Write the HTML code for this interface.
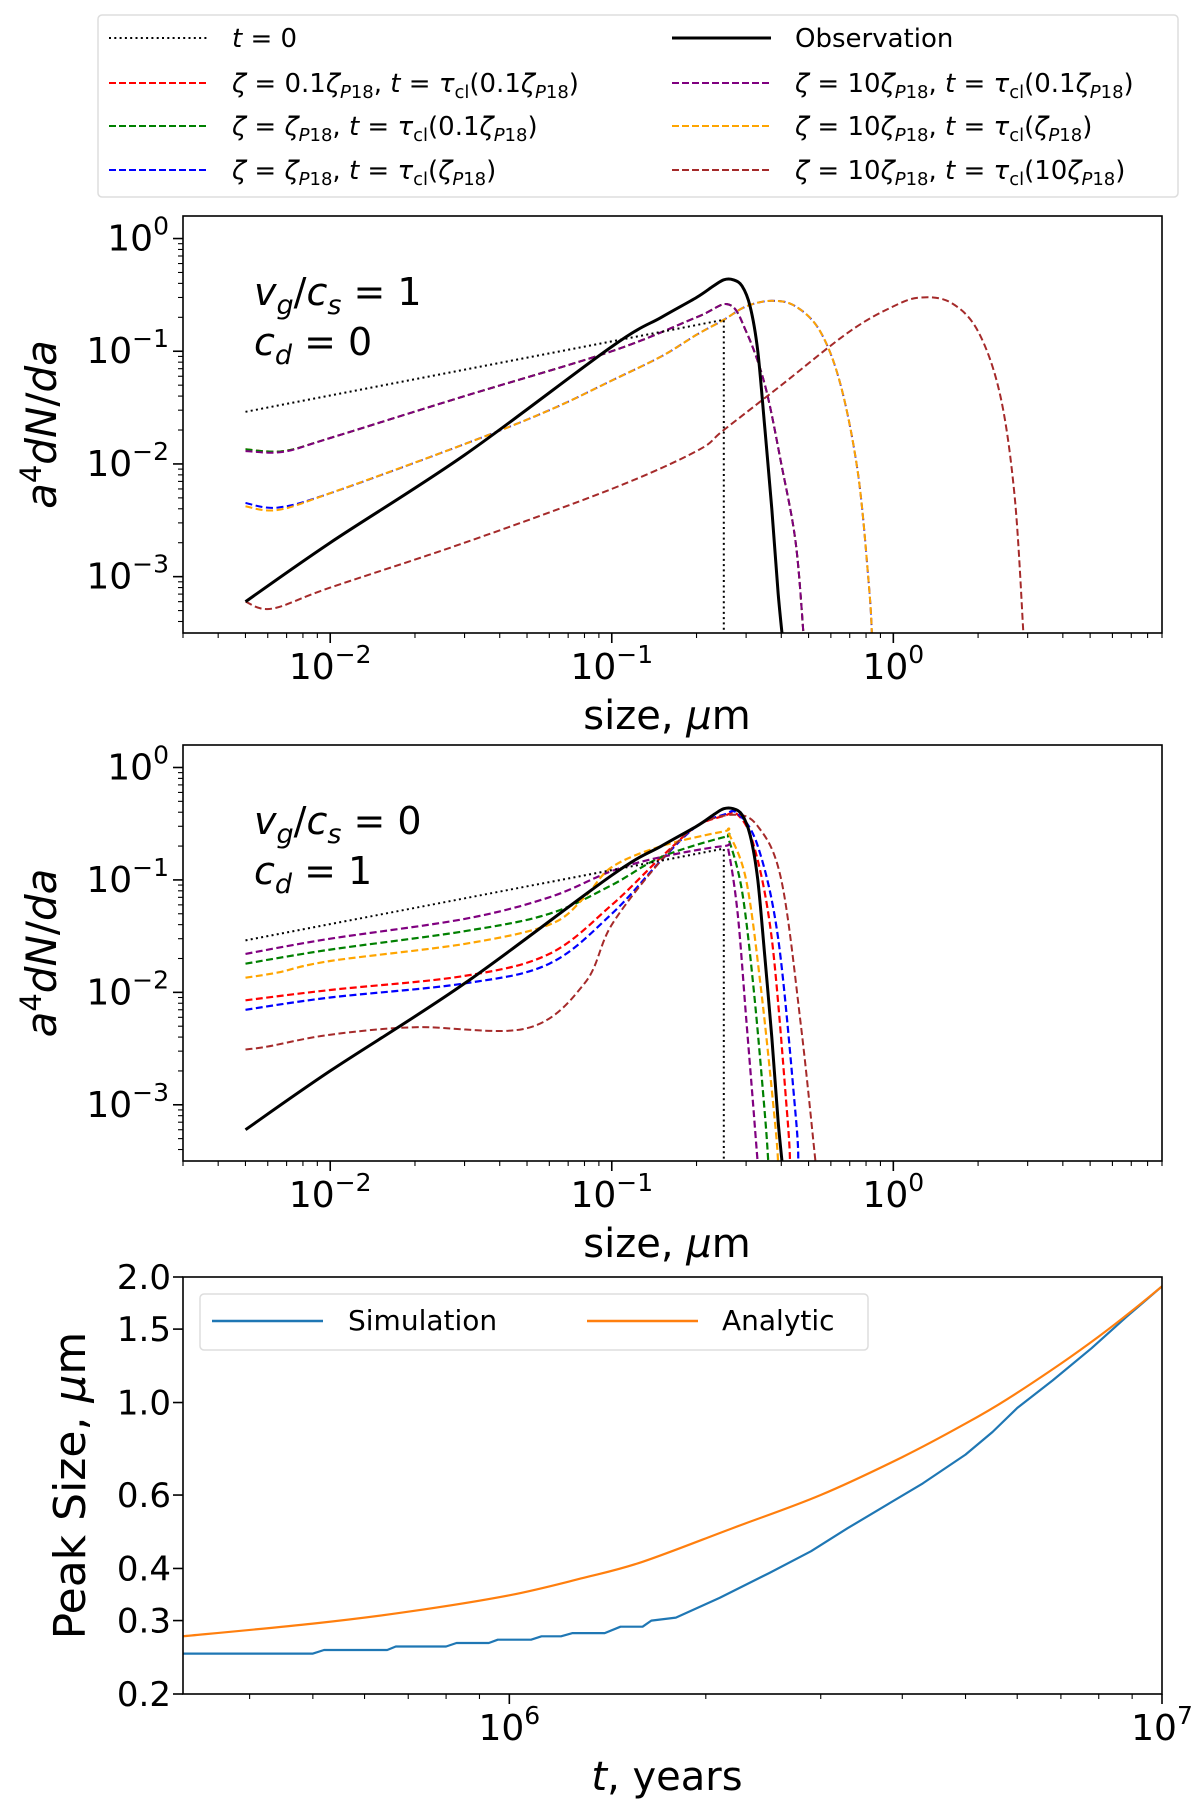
<!DOCTYPE html>
<html><head><meta charset="utf-8"><style>
html,body{margin:0;padding:0;background:#fff;}
svg{display:block;font-family:"DejaVu Sans","Liberation Sans",sans-serif;}
</style></head><body>
<svg id="fig" width="1200" height="1803" viewBox="0 0 1200 1803" xmlns="http://www.w3.org/2000/svg">
<g>
<rect x="98" y="15" width="1080" height="182" rx="4" fill="#fff" stroke="#ddd" stroke-width="1.5"/>
<g font-size="26" fill="#000">
<line x1="109" y1="38" x2="208" y2="38" stroke="#000" stroke-width="2" stroke-dasharray="2,3.3"/>
<text x="232" y="47"><tspan font-style="italic">t</tspan> = 0</text>
<line x1="109" y1="83" x2="208" y2="83" stroke="red" stroke-width="2" stroke-dasharray="7,3"/>
<text x="232" y="92"><tspan font-style="italic">ζ</tspan> = 0.1<tspan font-style="italic">ζ</tspan><tspan font-size="18" dy="6" font-style="italic">P</tspan><tspan font-size="18">18</tspan><tspan dy="-6">, </tspan><tspan font-style="italic">t</tspan> = <tspan font-style="italic">τ</tspan><tspan font-size="18" dy="6">cl</tspan><tspan dy="-6">(0.1</tspan><tspan font-style="italic">ζ</tspan><tspan font-size="18" dy="6" font-style="italic">P</tspan><tspan font-size="18">18</tspan><tspan dy="-6">)</tspan></text>
<line x1="109" y1="126" x2="208" y2="126" stroke="green" stroke-width="2" stroke-dasharray="7,3"/>
<text x="232" y="135"><tspan font-style="italic">ζ</tspan> = <tspan font-style="italic">ζ</tspan><tspan font-size="18" dy="6" font-style="italic">P</tspan><tspan font-size="18">18</tspan><tspan dy="-6">, </tspan><tspan font-style="italic">t</tspan> = <tspan font-style="italic">τ</tspan><tspan font-size="18" dy="6">cl</tspan><tspan dy="-6">(0.1</tspan><tspan font-style="italic">ζ</tspan><tspan font-size="18" dy="6" font-style="italic">P</tspan><tspan font-size="18">18</tspan><tspan dy="-6">)</tspan></text>
<line x1="109" y1="170" x2="208" y2="170" stroke="blue" stroke-width="2" stroke-dasharray="7,3"/>
<text x="232" y="179"><tspan font-style="italic">ζ</tspan> = <tspan font-style="italic">ζ</tspan><tspan font-size="18" dy="6" font-style="italic">P</tspan><tspan font-size="18">18</tspan><tspan dy="-6">, </tspan><tspan font-style="italic">t</tspan> = <tspan font-style="italic">τ</tspan><tspan font-size="18" dy="6">cl</tspan><tspan dy="-6">(</tspan><tspan font-style="italic">ζ</tspan><tspan font-size="18" dy="6" font-style="italic">P</tspan><tspan font-size="18">18</tspan><tspan dy="-6">)</tspan></text>
<line x1="672" y1="38" x2="771" y2="38" stroke="#000" stroke-width="3"/>
<text x="795" y="47">Observation</text>
<line x1="672" y1="83" x2="771" y2="83" stroke="purple" stroke-width="2" stroke-dasharray="7,3"/>
<text x="795" y="92"><tspan font-style="italic">ζ</tspan> = 10<tspan font-style="italic">ζ</tspan><tspan font-size="18" dy="6" font-style="italic">P</tspan><tspan font-size="18">18</tspan><tspan dy="-6">, </tspan><tspan font-style="italic">t</tspan> = <tspan font-style="italic">τ</tspan><tspan font-size="18" dy="6">cl</tspan><tspan dy="-6">(0.1</tspan><tspan font-style="italic">ζ</tspan><tspan font-size="18" dy="6" font-style="italic">P</tspan><tspan font-size="18">18</tspan><tspan dy="-6">)</tspan></text>
<line x1="672" y1="126" x2="771" y2="126" stroke="orange" stroke-width="2" stroke-dasharray="7,3"/>
<text x="795" y="135"><tspan font-style="italic">ζ</tspan> = 10<tspan font-style="italic">ζ</tspan><tspan font-size="18" dy="6" font-style="italic">P</tspan><tspan font-size="18">18</tspan><tspan dy="-6">, </tspan><tspan font-style="italic">t</tspan> = <tspan font-style="italic">τ</tspan><tspan font-size="18" dy="6">cl</tspan><tspan dy="-6">(</tspan><tspan font-style="italic">ζ</tspan><tspan font-size="18" dy="6" font-style="italic">P</tspan><tspan font-size="18">18</tspan><tspan dy="-6">)</tspan></text>
<line x1="672" y1="170" x2="771" y2="170" stroke="#a52a2a" stroke-width="2" stroke-dasharray="7,3"/>
<text x="795" y="179"><tspan font-style="italic">ζ</tspan> = 10<tspan font-style="italic">ζ</tspan><tspan font-size="18" dy="6" font-style="italic">P</tspan><tspan font-size="18">18</tspan><tspan dy="-6">, </tspan><tspan font-style="italic">t</tspan> = <tspan font-style="italic">τ</tspan><tspan font-size="18" dy="6">cl</tspan><tspan dy="-6">(10</tspan><tspan font-style="italic">ζ</tspan><tspan font-size="18" dy="6" font-style="italic">P</tspan><tspan font-size="18">18</tspan><tspan dy="-6">)</tspan></text>
</g>
</g>
</svg>
<script>
// ---------- data (panel 1: v_g/c_s=1, c_d=0) ----------
const t0X = [0.005, 0.25, 0.25];
const t0Y = [0.029, 0.19, 0.0002];
const obsX = [0.005,0.01,0.03,0.1,0.15,0.2,0.23,0.25,0.27,0.29,0.31,0.33,0.35,0.37,0.39,0.41];
const obsY = [6e-4,2e-3,1.2e-2,0.11,0.2,0.3,0.38,0.43,0.43,0.38,0.25,0.1,0.02,0.004,7e-4,2e-4];
const p1PurpleX = [0.005,0.0068,0.01,0.03,0.1,0.2,0.26,0.3,0.35,0.4,0.45,0.48];
const p1PurpleY = [0.013,0.0128,0.017,0.04,0.1,0.2,0.26,0.15,0.05,0.01,0.002,3e-4];
const p1RedY = [0.0135,0.013,0.017,0.04,0.1,0.2,0.26,0.15,0.05,0.01,0.002,3e-4];
const p1OrangeX = [0.005,0.0065,0.01,0.03,0.06,0.1,0.15,0.2,0.25,0.3,0.37,0.45,0.55,0.65,0.75,0.82,0.84];
const p1OrangeY = [0.0042,0.0039,0.0055,0.015,0.03,0.055,0.09,0.14,0.19,0.25,0.28,0.25,0.15,0.05,0.008,8e-4,3e-4];
const p1BlueY = [0.0045,0.0041,0.0055,0.015,0.03,0.055,0.09,0.14,0.19,0.25,0.28,0.25,0.15,0.05,0.008,8e-4,3e-4];
const p1DarkX = [0.005,0.0062,0.01,0.03,0.1,0.2,0.25,0.4,0.7,1.0,1.25,1.6,2.0,2.4,2.7,2.9];
const p1DarkY = [6e-4,5.2e-4,8e-4,2e-3,6e-3,0.013,0.02,0.05,0.15,0.25,0.3,0.27,0.15,0.04,0.005,3e-4];
// ---------- data (panel 2: v_g/c_s=0, c_d=1) ----------
const p2PurpleX = [0.005,0.01,0.03,0.06,0.1,0.15,0.25,0.26,0.28,0.3,0.32,0.33];
const p2PurpleY = [0.022,0.03,0.045,0.07,0.12,0.16,0.2,0.18,0.05,0.006,8e-4,3e-4];
const p2GreenX = [0.005,0.01,0.03,0.06,0.1,0.15,0.25,0.26,0.29,0.32,0.35,0.36];
const p2GreenY = [0.018,0.024,0.035,0.05,0.09,0.16,0.24,0.23,0.08,0.01,8e-4,3e-4];
const p2OrangeX = [0.005,0.0065,0.01,0.03,0.06,0.08,0.1,0.15,0.25,0.26,0.3,0.34,0.38,0.39];
const p2OrangeY = [0.0135,0.015,0.019,0.027,0.04,0.07,0.13,0.2,0.27,0.26,0.1,0.01,7e-4,3e-4];
const p2RedX = [0.005,0.01,0.03,0.06,0.1,0.15,0.2,0.25,0.28,0.32,0.37,0.42,0.43];
const p2RedY = [0.0085,0.0105,0.014,0.022,0.06,0.16,0.3,0.37,0.38,0.2,0.03,8e-4,3e-4];
const p2BlueX = [0.005,0.01,0.03,0.06,0.1,0.15,0.2,0.25,0.28,0.33,0.39,0.45,0.46];
const p2BlueY = [0.007,0.009,0.012,0.018,0.05,0.15,0.3,0.38,0.39,0.2,0.03,8e-4,3e-4];
const p2DarkX = [0.005,0.006,0.01,0.02,0.05,0.08,0.1,0.15,0.2,0.27,0.33,0.4,0.47,0.53];
const p2DarkY = [0.0031,0.0033,0.0042,0.0049,0.0048,0.012,0.04,0.15,0.3,0.38,0.3,0.1,0.005,3e-4];
// ---------- data (panel 3) ----------
const anaT = [3.16e5,5e5,7e5,1e6,1.3e6,1.6e6,2.2e6,3e6,4e6,5e6,5.8e6,7e6,8e6,9e6,1e7];
const anaY = [0.275,0.295,0.315,0.345,0.38,0.415,0.5,0.6,0.74,0.89,1.02,1.24,1.44,1.66,1.9];
const simT = [3.16e5,5e5,5.2e5,6.5e5,6.7e5,8e5,8.3e5,9.3e5,9.6e5,1.08e6,1.12e6,1.2e6,1.25e6,1.4e6,1.48e6,1.6e6,1.65e6,1.8e6,2.1e6,2.5e6,2.9e6,3.3e6,3.8e6,4.3e6,5e6,5.5e6,6e6,6.8e6,7.8e6,8.8e6,1e7];
const simY = [0.25,0.25,0.255,0.255,0.26,0.26,0.265,0.265,0.27,0.27,0.275,0.275,0.28,0.28,0.29,0.29,0.3,0.305,0.34,0.39,0.44,0.5,0.57,0.64,0.75,0.85,0.97,1.13,1.35,1.6,1.9];
const p3YTicks = [0.2,0.3,0.4,0.6,1.0,1.5,2.0];
const p3YTickLabels = ["0.2","0.3","0.4","0.6","1.0","1.5","2.0"];

const NS = "http://www.w3.org/2000/svg";
const fig = document.getElementById('fig');
function mk(tag, attrs, parent){const e=document.createElementNS(NS,tag);for(const k in attrs)e.setAttribute(k,attrs[k]);(parent||fig).appendChild(e);return e;}

function logScale(d0,d1,r0,r1){const a=Math.log10(d0),b=Math.log10(d1);return v=>r0+(Math.log10(v)-a)/(b-a)*(r1-r0);}

function drawLine(g,xs,ys,sx,sy,color,width,dash,name,smooth){
  const P=xs.map((x,i)=>[sx(x),sy(ys[i])]);
  let d='M'+P[0][0].toFixed(1)+','+P[0][1].toFixed(1);
  for(let i=1;i<P.length;i++){
    if(smooth){
      const p0=P[Math.max(0,i-2)],p1=P[i-1],p2=P[i],p3=P[Math.min(P.length-1,i+1)];
      const k=1/6;
      const c1=[p1[0]+(p2[0]-p0[0])*k,p1[1]+(p2[1]-p0[1])*k];
      const c2=[p2[0]-(p3[0]-p1[0])*k,p2[1]-(p3[1]-p1[1])*k];
      d+='C'+c1[0].toFixed(1)+','+c1[1].toFixed(1)+' '+c2[0].toFixed(1)+','+c2[1].toFixed(1)+' '+p2[0].toFixed(1)+','+p2[1].toFixed(1);
    } else d+='L'+P[i][0].toFixed(1)+','+P[i][1].toFixed(1);
  }
  const p=mk('path',{d:d,fill:'none',stroke:color,'stroke-width':width,'stroke-linejoin':'round'},g);
  if(dash)p.setAttribute('stroke-dasharray',dash);
  
  
}

function axesFrame(L,T,R,B,name){
  const g=mk('g',{});
  
  
  const cp=mk('clipPath',{id:'clip-'+name},g);
  mk('rect',{x:L,y:T,width:R-L,height:B-T},cp);
  return g;
}

function decadeTicksX(g,sx,d0,d1,B,labelled){
  for(let e=Math.floor(Math.log10(d0));e<=Math.ceil(Math.log10(d1));e++){
    for(let m=1;m<10;m++){
      const v=m*Math.pow(10,e); if(v<d0*0.999||v>d1*1.001)continue;
      const x=sx(v);
      mk('line',{x1:x,y1:B,x2:x,y2:B+(m===1?10:5),stroke:'#000','stroke-width':m===1?1.6:1.1},g);
      if(m===1&&labelled.includes(e)){
        const t=mk('text',{x:x,y:B+46,'font-size':36,'text-anchor':'middle'},g);
        
        
        t.innerHTML='10<tspan font-size="25" dy="-16">'+(e<0?'−'+(-e):e)+'</tspan>';
      }
    }
  }
}
function decadeTicksY(g,sy,d0,d1,L){
  for(let e=Math.floor(Math.log10(d0));e<=Math.ceil(Math.log10(d1));e++){
    for(let m=1;m<10;m++){
      const v=m*Math.pow(10,e); if(v<d0*0.999||v>d1*1.001)continue;
      const y=sy(v);
      mk('line',{x1:L,y1:y,x2:L-(m===1?10:5),y2:y,stroke:'#000','stroke-width':m===1?1.6:1.1},g);
      if(m===1){
        const t=mk('text',{x:L-14,y:y+12,'font-size':36,'text-anchor':'end'},g);
        
        
        t.innerHTML='10<tspan font-size="25" dy="-16">'+(e<0?'−'+(-e):e)+'</tspan>';
      }
    }
  }
}

function sizePanel(T,B,name,series,ann1,ann2){
  const L=183,R=1162;
  const g=axesFrame(L,T,R,B,name);
  const sx=logScale(0.003,9,L,R);
  const sy=logScale(Math.pow(10,-3.5),Math.pow(10,0.2),B,T);
  const cg=mk('g',{'clip-path':'url(#clip-'+name+')'},g);
  series.forEach(s=>drawLine(cg,s[0],s[1],sx,sy,s[2],s[3],s[4],s[5],s[6]));
  mk('rect',{x:L,y:T,width:R-L,height:B-T,fill:'none',stroke:'#000','stroke-width':1.6},g);
  decadeTicksX(g,sx,0.003,9,B,[-2,-1,0]);
  decadeTicksY(g,sy,Math.pow(10,-3.5),Math.pow(10,0.2),L);
  const a1=mk('text',{x:254,y:T+89,'font-size':38},g);
  
  
  a1.innerHTML='<tspan font-style="italic">v</tspan><tspan font-size="27" dy="9" font-style="italic">g</tspan><tspan dy="-9">/</tspan><tspan font-style="italic">c</tspan><tspan font-size="27" dy="9" font-style="italic">s</tspan><tspan dy="-9"> = '+ann1+'</tspan>';
  const a2=mk('text',{x:254,y:T+139,'font-size':38},g);
  
  
  a2.innerHTML='<tspan font-style="italic">c</tspan><tspan font-size="27" dy="9" font-style="italic">d</tspan><tspan dy="-9"> = '+ann2+'</tspan>';
  const xl=mk('text',{x:667,y:B+96,'font-size':40,'text-anchor':'middle'},g);
  
  
  xl.innerHTML='size, <tspan font-style="italic">μ</tspan>m';
  const yc=(T+B)/2;
  const yl=mk('text',{x:0,y:0,'font-size':42,'text-anchor':'middle',transform:'translate(56,'+yc+') rotate(-90)'},g);
  
  
  yl.innerHTML='<tspan font-style="italic">a</tspan><tspan font-size="29" dy="-15">4</tspan><tspan dy="15" font-style="italic">dN</tspan>/<tspan font-style="italic">da</tspan>';
}
const D='7,3.5';
sizePanel(216,633,'panel-vg1-cd0',[
  [p1PurpleX,p1RedY,'red',2,D,'red-dashed-line',true],
  [p1PurpleX,p1RedY,'green',2,D,'green-dashed-line',true],
  [p1OrangeX,p1BlueY,'blue',2,D,'blue-dashed-line',true],
  [p1PurpleX,p1PurpleY,'purple',2,D,'purple-dashed-line',true],
  [p1OrangeX,p1OrangeY,'orange',2,D,'orange-dashed-line',true],
  [p1DarkX,p1DarkY,'#a52a2a',2,D,'darkred-dashed-line',true],
  [t0X,t0Y,'#000',2,'2,3.3','t0-dotted-line',false],
  [obsX,obsY,'#000',3,null,'observation-line',true]
],'1','0');
sizePanel(745,1161,'panel-vg0-cd1',[
  [p2RedX,p2RedY,'red',2.2,D,'red-dashed-line',true],
  [p2GreenX,p2GreenY,'green',2.2,D,'green-dashed-line',true],
  [p2BlueX,p2BlueY,'blue',2.2,D,'blue-dashed-line',true],
  [p2PurpleX,p2PurpleY,'purple',2.2,D,'purple-dashed-line',true],
  [p2OrangeX,p2OrangeY,'orange',2.2,D,'orange-dashed-line',true],
  [p2DarkX,p2DarkY,'#a52a2a',2,D,'darkred-dashed-line',true],
  [t0X,t0Y,'#000',2,'2,3.3','t0-dotted-line',false],
  [obsX,obsY,'#000',3,null,'observation-line',true]
],'0','1');

// panel 3
(function(){
  const L=183,R=1162,T=1277,B=1694,name='panel-peak-size';
  const g=axesFrame(L,T,R,B,name);
  const sx=logScale(Math.pow(10,5.5),1e7,L,R);
  const sy=logScale(0.2,2.0,B,T);
  const cg=mk('g',{'clip-path':'url(#clip-'+name+')'},g);
  drawLine(cg,simT,simY,sx,sy,'#1f77b4',2.2,null,'simulation-line',false);
  drawLine(cg,anaT,anaY,sx,sy,'#ff7f0e',2.2,null,'analytic-line',true);
  mk('rect',{x:L,y:T,width:R-L,height:B-T,fill:'none',stroke:'#000','stroke-width':1.6},g);
  decadeTicksX(g,sx,Math.pow(10,5.5),1e7,B,[6,7]);
  p3YTicks.forEach((v,i)=>{
    const y=sy(v);
    mk('line',{x1:L,y1:y,x2:L-10,y2:y,stroke:'#000','stroke-width':1.6},g);
    const t=mk('text',{x:L-12,y:y+12,'font-size':34,'text-anchor':'end'},g);
    
    
    t.textContent=p3YTickLabels[i];
  });
  const lg=mk('g',{},g);
  
  
  mk('rect',{x:200,y:1294,width:668,height:56,rx:4,fill:'#fff',stroke:'#ddd','stroke-width':1.5},lg);
  mk('line',{x1:212,y1:1321,x2:323,y2:1321,stroke:'#1f77b4','stroke-width':2.5},lg);
  const t1=mk('text',{x:348,y:1330,'font-size':28},lg); t1.textContent='Simulation';
  mk('line',{x1:587,y1:1321,x2:698,y2:1321,stroke:'#ff7f0e','stroke-width':2.5},lg);
  const t2=mk('text',{x:722,y:1330,'font-size':28},lg); t2.textContent='Analytic';
  const xl=mk('text',{x:667,y:1790,'font-size':40,'text-anchor':'middle'},g);
  
  
  xl.innerHTML='<tspan font-style="italic">t</tspan>, years';
  const yl=mk('text',{x:0,y:0,'font-size':44,'text-anchor':'middle',transform:'translate(85,'+((T+B)/2)+') rotate(-90)'},g);
  
  
  yl.innerHTML='Peak Size, <tspan font-style="italic">μ</tspan>m';
})();
</script>
</body></html>
